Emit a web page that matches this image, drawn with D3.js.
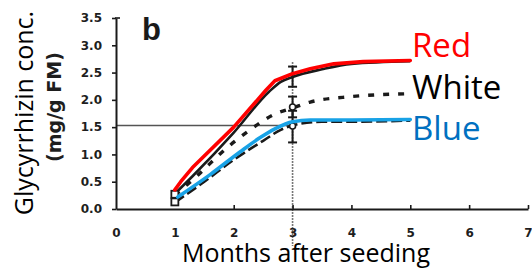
<!DOCTYPE html>
<html>
<head>
<meta charset="utf-8">
<script src="https://cdn.jsdelivr.net/npm/d3@7/dist/d3.min.js"></script>
<style>
  html, body { margin: 0; padding: 0; background: #fff; }
  svg { display: block; }
</style>
</head>
<body>
<svg id="chart" width="532" height="268"></svg>
<script>
// ---- data ----
const xTicks = [0, 1, 2, 3, 4, 5, 6, 7];
const yTicks = [0.0, 0.5, 1.0, 1.5, 2.0, 2.5, 3.0, 3.5];

const redMonths = [1, 1.1, 1.3, 2.0, 2.55, 2.7, 3.0, 3.3, 3.7, 4.2, 5];
const redValues = [0.35, 0.5, 0.76, 1.5, 2.18, 2.35, 2.48, 2.57, 2.66, 2.7, 2.72];

const topBlackMonths = [1, 1.3, 2.0, 2.6, 2.8, 3.0, 3.5, 4.0, 5];
const topBlackValues = [0.28, 0.6, 1.4, 2.15, 2.33, 2.42, 2.56, 2.66, 2.71];

const whiteMonths = [1, 1.4, 1.8, 2.25, 2.7, 3.0, 3.3, 4.0, 4.9];
const whiteValues = [0.25, 0.63, 1.04, 1.43, 1.74, 1.85, 1.96, 2.06, 2.11];

const lowBlackMonths = [1, 1.5, 2.0, 2.5, 2.8, 3.0, 3.5, 4.0, 5.0];
const lowBlackValues = [0.12, 0.5, 0.9, 1.25, 1.45, 1.53, 1.6, 1.6, 1.62];

const blueMonths = [1.05, 1.6, 2.1, 2.45, 2.7, 3.0, 3.3, 4.0, 5.0];
const blueValues = [0.22, 0.63, 1.04, 1.31, 1.47, 1.6, 1.63, 1.63, 1.64];

// error bars at month 3: [low, high]
const errMonth = 3;
const errLow = [2.24, 1.68, 1.22];
const errHigh = [2.61, 2.06, 1.80];
const markerAt3 = [1.87, 1.52];
const markerAt1 = [0.27, 0.13];

const guideValue = 1.53;
const legendLabels = ["Red", "White", "Blue"];

// ---- drawing ----
const svg = d3.select("#chart");
const x = d3.scaleLinear().domain([0, 7]).range([116, 528]);
const y = d3.scaleLinear().domain([0, 3.5]).range([209, 18]);

// guide lines
svg.append("line")
  .attr("x1", x(0)).attr("x2", x(errMonth))
  .attr("y1", y(guideValue)).attr("y2", y(guideValue))
  .attr("stroke", "#555").attr("stroke-width", 1.3);
svg.append("line")
  .attr("x1", x(errMonth)).attr("x2", x(errMonth))
  .attr("y1", 62).attr("y2", 246)
  .attr("stroke", "#777").attr("stroke-width", 1.6)
  .attr("stroke-dasharray", "2,1");

// axes
const yAxis = d3.axisLeft(y).tickValues(yTicks).tickFormat(d3.format(".1f"))
  .tickSize(4).tickSizeOuter(0).tickPadding(10);
const gy = svg.append("g").attr("transform", `translate(${x(0)},0)`).call(yAxis);

const xAxis = d3.axisBottom(x).tickValues(xTicks).tickFormat(d3.format("d"))
  .tickSize(-4).tickSizeOuter(0).tickPadding(19);
const gx = svg.append("g").attr("transform", `translate(0,${y(0)})`).call(xAxis);

[gx, gy].forEach(g => {
  g.select(".domain").attr("stroke", "#1a1a1a").attr("stroke-width", 2);
  g.selectAll(".tick line").attr("stroke", "#1a1a1a").attr("stroke-width", 1.6);
  g.selectAll(".tick text")
    .attr("font-family", "DejaVu Sans")
    .attr("font-weight", "bold")
    .attr("font-size", 12)
    .attr("fill", "#1e1e1e");
});
gx.selectAll(".tick").filter(d => d === 0 || d === 1).select("line").remove();
// top bracket of y axis
svg.append("line")
  .attr("x1", x(0) - 1).attr("x2", x(0) + 4)
  .attr("y1", y(3.5)).attr("y2", y(3.5))
  .attr("stroke", "#1a1a1a").attr("stroke-width", 1.6);

// lines
const line = d3.line().x(d => x(d[0])).y(d => y(d[1]));
const lineSmooth = d3.line().x(d => x(d[0])).y(d => y(d[1])).curve(d3.curveMonotoneX);
const zip = (a, b) => a.map((v, i) => [v, b[i]]);

svg.append("path").datum(zip(topBlackMonths, topBlackValues))
  .attr("d", lineSmooth).attr("fill", "none")
  .attr("stroke", "#1a1a1a").attr("stroke-width", 2.6);

svg.append("path").datum(zip(lowBlackMonths, lowBlackValues))
  .attr("d", lineSmooth).attr("fill", "none")
  .attr("stroke", "#1a1a1a").attr("stroke-width", 2.6)
  .attr("stroke-dasharray", "11,4");

svg.append("path").datum(zip(whiteMonths, whiteValues))
  .attr("d", lineSmooth).attr("fill", "none")
  .attr("stroke", "#1a1a1a").attr("stroke-width", 3.4)
  .attr("stroke-dasharray", "6,9");

// error bars
errLow.forEach((lo, i) => {
  const hi = errHigh[i];
  const g = svg.append("g").attr("stroke", "#1a1a1a").attr("stroke-width", 2);
  g.append("line").attr("x1", x(errMonth)).attr("x2", x(errMonth))
    .attr("y1", y(lo)).attr("y2", y(hi));
  [lo, hi].forEach(v => g.append("line")
    .attr("x1", x(errMonth) - 4.5).attr("x2", x(errMonth) + 4.5)
    .attr("y1", y(v)).attr("y2", y(v)));
});
markerAt3.forEach(v => svg.append("circle")
  .attr("cx", x(errMonth)).attr("cy", y(v)).attr("r", 3)
  .attr("fill", "#fff").attr("stroke", "#1a1a1a").attr("stroke-width", 1.6));

markerAt1.forEach(v => svg.append("rect")
  .attr("x", x(1) - 3.5).attr("y", y(v) - 3.5).attr("width", 7).attr("height", 7)
  .attr("fill", "#fff").attr("stroke", "#1a1a1a").attr("stroke-width", 1.8));

svg.append("path").datum(zip(redMonths, redValues))
  .attr("d", line).attr("fill", "none")
  .attr("stroke", "#ff0000").attr("stroke-width", 3.6)
  .attr("stroke-linejoin", "round").attr("stroke-linecap", "round");

svg.append("path").datum(zip(blueMonths, blueValues))
  .attr("d", lineSmooth).attr("fill", "none")
  .attr("stroke", "#18a2e6").attr("stroke-width", 3.6)
  .attr("stroke-linecap", "round");

// panel letter
svg.append("text").attr("x", 142).attr("y", 40)
  .attr("font-family", "Liberation Sans").attr("font-weight", "bold")
  .attr("font-size", 31).attr("fill", "#1a1a1a").text("b");

// y unit label (scan)
svg.append("text")
  .attr("transform", "translate(61,107) rotate(-90)")
  .attr("text-anchor", "middle")
  .attr("font-family", "DejaVu Sans").attr("font-weight", "bold")
  .attr("font-size", 19).attr("fill", "#1e1e1e").text("(mg/g FM)");

// y title
svg.append("text")
  .attr("transform", "translate(33,113) rotate(-90)")
  .attr("text-anchor", "middle")
  .attr("font-family", "Open Sans")
  .attr("font-size", 25).attr("fill", "#000").text("Glycyrrhizin conc.");

// x title
svg.append("text")
  .attr("x", 306).attr("y", 262)
  .attr("text-anchor", "middle")
  .attr("font-family", "Open Sans")
  .attr("font-size", 25).attr("fill", "#000").text("Months after seeding");

// legend
const legendColors = ["#ff0000", "#000000", "#0070c0"];
const legendY = [57, 99, 140];
legendLabels.forEach((t, i) => svg.append("text")
  .attr("x", 412).attr("y", legendY[i])
  .attr("font-family", "Open Sans").attr("font-size", 33)
  .attr("fill", legendColors[i]).text(t));
</script>
</body>
</html>
